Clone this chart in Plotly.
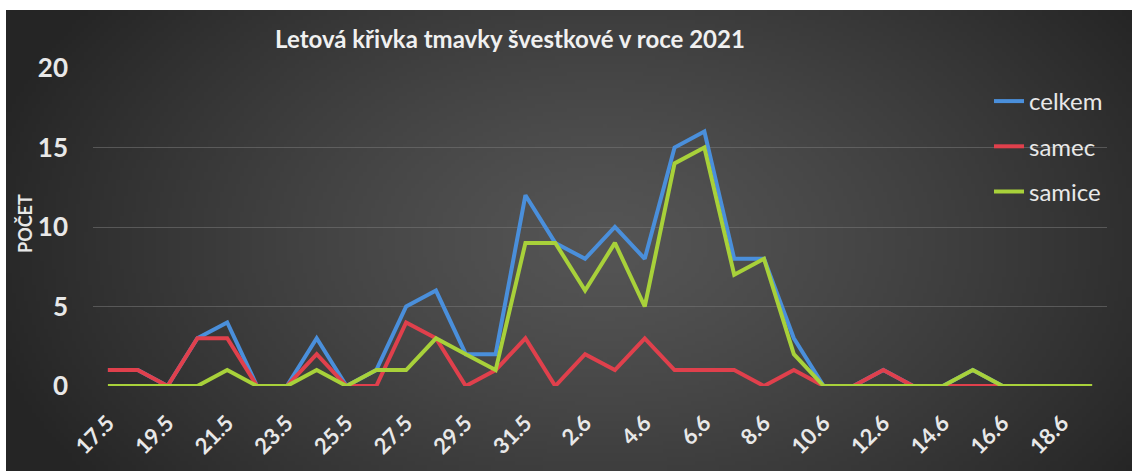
import base64, struct, zlib
import numpy as np
import plotly.graph_objects as go

dates = ["17.5", "18.5", "19.5", "20.5", "21.5", "22.5", "23.5", "24.5", "25.5", "26.5",
         "27.5", "28.5", "29.5", "30.5", "31.5", "1.6", "2.6", "3.6", "4.6", "5.6",
         "6.6", "7.6", "8.6", "9.6", "10.6", "11.6", "12.6", "13.6", "14.6", "15.6",
         "16.6", "17.6", "18.6", "19.6"]
celkem = [1, 1, 0, 3, 4, 0, 0, 3, 0, 1, 5, 6, 2, 2, 12, 9, 8, 10, 8, 15,
          16, 8, 8, 3, 0, 0, 1, 0, 0, 1, 0, 0, 0, 0]
samec = [1, 1, 0, 3, 3, 0, 0, 2, 0, 0, 4, 3, 0, 1, 3, 0, 2, 1, 3, 1,
         1, 1, 0, 1, 0, 0, 1, 0, 0, 0, 0, 0, 0, 0]
samice = [0, 0, 0, 0, 1, 0, 0, 1, 0, 1, 1, 3, 2, 1, 9, 9, 6, 9, 5, 14,
          15, 7, 8, 2, 0, 0, 0, 0, 0, 1, 0, 0, 0, 0]
tick_labels = ["17.5", "19.5", "21.5", "23.5", "25.5", "27.5", "29.5", "31.5", "2.6",
               "4.6", "6.6", "8.6", "10.6", "12.6", "14.6", "16.6", "18.6"]
y_ticks = [0, 5, 10, 15, 20]

W, H = 1132, 471
L, R, T, B = 93, 25, 68, 85
PW, PH = W - L - R, H - T - B

# radial gradient background as PNG data URI
gw, gh = 282, 115
yy, xx = np.mgrid[0:gh, 0:gw]
cx, cy = gw * 0.53, gh * 0.5
r = np.sqrt(((xx - cx) / (gw * 0.57)) ** 2 + ((yy - cy) / (gh * 0.9)) ** 2)
r = np.clip(r, 0, 1)
val = (85 - (85 - 37) * r ** 1.25).astype(np.uint8)
raw = b"".join(b"\x00" + val[i].tobytes() for i in range(gh))
def chunk(t, d):
    c = struct.pack(">I", len(d)) + t + d
    return c + struct.pack(">I", zlib.crc32(t + d) & 0xffffffff)
png = (b"\x89PNG\r\n\x1a\n" + chunk(b"IHDR", struct.pack(">IIBBBBB", gw, gh, 8, 0, 0, 0, 0))
       + chunk(b"IDAT", zlib.compress(raw)) + chunk(b"IEND", b""))
bg_uri = "data:image/png;base64," + base64.b64encode(png).decode()

fig = go.Figure()
series = [("celkem", celkem, "#4a8fdb"), ("samec", samec, "#e0404c"), ("samice", samice, "#a8d13a")]
for name, vals, col in series:
    fig.add_trace(go.Scatter(x=dates, y=vals, mode="lines", name=name, legendgroup=name,
                             line=dict(color=col, width=4)))

fig.add_layout_image(dict(source=bg_uri, xref="paper", yref="paper",
                          x=(6 - L) / PW, y=(H - B - 10) / PH,
                          sizex=(W - 6) / PW, sizey=(H - 10) / PH,
                          sizing="stretch", xanchor="left", yanchor="top", layer="below"))

fig.update_layout(
    width=W, height=H,
    margin=dict(l=L, r=R, t=T, b=B),
    paper_bgcolor="white", plot_bgcolor="rgba(0,0,0,0)",
    font=dict(family="Lato, sans-serif", color="#e8e8e8"),
    title=dict(text="<b>Letová křivka tmavky švestkové v roce 2021</b>", x=510 / W, xanchor="center",
               y=1 - 40 / H, yanchor="middle", font=dict(size=24, color="#f0f0f0")),
    showlegend=True,
    legend=dict(x=(989 - L) / PW, y=(H - B - 79) / PH, xanchor="left", yanchor="top",
                bgcolor="rgba(0,0,0,0)", font=dict(size=24, color="#e8e8e8"),
                tracegroupgap=11, itemwidth=30),
    xaxis=dict(type="category", categoryorder="array", categoryarray=dates,
               range=[-0.5, len(dates) - 0.5], tickmode="array", tickvals=tick_labels,
               ticktext=["<b>%s</b>" % t for t in tick_labels], tickangle=-45,
               tickfont=dict(size=22, color="#e8e8e8"), showgrid=False, zeroline=False,
               showline=False, ticks="", ticklabelstandoff=19, automargin=False),
    yaxis=dict(range=[0, 20], tickmode="array", tickvals=y_ticks,
               ticktext=["<b>%d</b>" % v for v in y_ticks],
               tickfont=dict(size=26, color="#e8e8e8"), showgrid=True,
               gridcolor="rgba(120,120,120,0.55)", gridwidth=1, zeroline=False,
               showline=False, ticks="", ticklabelstandoff=24, automargin=False),
)
fig.add_annotation(text="<b>POČET</b>", xref="paper", yref="paper", x=(25 - L) / PW,
                   y=(H - B - 224) / PH, textangle=-90, showarrow=False,
                   font=dict(size=18, color="#e8e8e8"), xanchor="center", yanchor="middle")

fig.write_html("out.html", config={"displayModeBar": False},
               post_script="document.body.style.margin='0';")
